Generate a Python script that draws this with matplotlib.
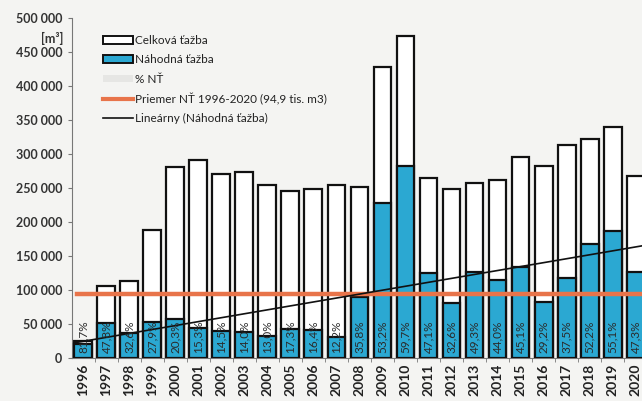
import numpy as np
import matplotlib
matplotlib.use("Agg")
import matplotlib.pyplot as plt
from matplotlib.patches import Patch
from matplotlib.lines import Line2D

plt.rcParams['font.family'] = ['Lato', 'DejaVu Sans']

# roky a hodnoty (m3), odčítané z obrázka
roky = [str(r) for r in range(1996, 2021)]
celkova = [25000, 106000, 113000, 188000, 281000, 291000, 271000, 274000, 254000,
           245000, 248000, 254000, 251000, 428000, 474000, 265000, 249000, 258000,
           262000, 296000, 282000, 313000, 322000, 340000, 268000]
percenta = [81.7, 47.8, 32.6, 27.9, 20.3, 15.3, 14.5, 14.0, 13.0, 17.3, 16.4, 12.2,
            35.8, 53.2, 59.7, 47.1, 32.6, 49.3, 44.0, 45.1, 29.2, 37.5, 52.2, 55.1, 47.3]
nahodna = [20400, 51500, 37000, 52500, 57000, 44500, 39300, 38400, 33000, 42400,
           40700, 31000, 89900, 227700, 283000, 124800, 81200, 127200, 115300,
           133500, 82300, 117400, 168100, 187300, 126800]
priemer = 94900

modra = '#2BA8D2'
oranzova = '#E8744A'
bg = '#F4F4F2'

fig = plt.figure(figsize=(6.42, 4.01), dpi=100, facecolor=bg)
ax = fig.add_axes([0.112, 0.107, 0.888, 0.848], facecolor=bg)

x = np.arange(len(roky))
ax.bar(x, celkova, width=0.78, color='white', edgecolor='#111111', linewidth=1.6, zorder=2)
ax.bar(x, nahodna, width=0.78, color=modra, edgecolor='#111111', linewidth=1.6, zorder=3)

# percentá náhodnej ťažby
for i, p in enumerate(percenta):
    ax.text(x[i], 8000, f"{p:.1f}%".replace('.', ','), rotation=90, ha='center',
            va='bottom', fontsize=8.5, color='#2a2a2a', zorder=5)

# priemer
ax.plot([x[0] - 0.3, x[-1] + 0.3], [priemer, priemer], color=oranzova, lw=3.2, zorder=4)

# lineárny trend
k, q = np.polyfit(x, nahodna, 1)
ax.plot([x[0] - 0.4, x[-1] + 0.4], [k * (x[0] - 0.4) + q, k * (x[-1] + 0.4) + q],
        color='#111111', lw=1.2, zorder=4)

ax.set_xlim(-0.5, 24.28)
ax.set_ylim(0, 500000)
ax.set_yticks(range(0, 500001, 50000))
ax.set_yticklabels([f"{v:,}".replace(',', ' ') for v in range(0, 500001, 50000)],
                   fontsize=9, fontweight='bold', color='#333333')
ax.set_xticks(x)
ax.set_xticklabels(roky, rotation=90, fontsize=10, fontweight='bold', color='#222222')
ax.set_xticks(x[:-1] + 0.5, minor=True)
ax.tick_params(axis='x', which='major', length=0, pad=4)
ax.tick_params(axis='x', which='minor', length=3, color='#777777')
ax.tick_params(axis='y', length=3, color='#777777', pad=4)
for s in ['top', 'right']:
    ax.spines[s].set_visible(False)
ax.spines['left'].set_color('#777777')
ax.spines['bottom'].set_color('#777777')

fig.text(0.098, 0.905, '[m³]', ha='right', va='center', fontsize=9,
         fontweight='bold', color='#333333')

handles = [
    Patch(facecolor='white', edgecolor='#111111', linewidth=1.4),
    Patch(facecolor=modra, edgecolor='#111111', linewidth=1.4),
    Patch(facecolor='#E6E6E4', edgecolor='none'),
    Line2D([0], [0], color=oranzova, lw=3),
    Line2D([0], [0], color='#111111', lw=1.2),
]
labels = ['Celková ťažba', 'Náhodná ťažba', '% NŤ',
          'Priemer NŤ 1996-2020 (94,9 tis. m3)', 'Lineárny (Náhodná ťažba)']
leg = ax.legend(handles, labels, loc='upper left', bbox_to_anchor=(0.054, 0.95),
                frameon=False, fontsize=8.5, handlelength=2.6, handleheight=0.6,
                handletextpad=0.1, labelspacing=0.7, borderaxespad=0,
                borderpad=0)
for t in leg.get_texts():
    t.set_color('#222222')

fig.savefig('out.png', dpi=100, facecolor=bg)
